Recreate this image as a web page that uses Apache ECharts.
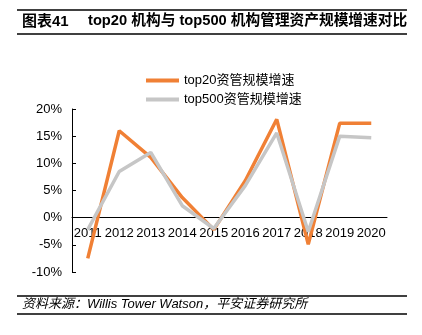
<!DOCTYPE html>
<html>
<head>
<meta charset="utf-8">
<script src="https://cdn.jsdelivr.net/npm/echarts@6/dist/echarts.min.js"></script>
<style>
html,body{margin:0;padding:0;background:#fff;}
#c{width:422px;height:335px;}
</style>
</head>
<body>
<div id="c"></div>
<script>
const categories = ['2011','2012','2013','2014','2015','2016','2017','2018','2019','2020'];
const top20 = [-7.5, 16.0, 11.1, 3.7, -2.2, 6.8, 18.1, -4.9, 17.4, 17.4];
const top500 = [-2.2, 8.5, 12.0, 2.2, -2.0, 5.9, 15.6, -2.6, 15.0, 14.7];
const seriesNames = ['top20资管规模增速', 'top500资管规模增速'];
const yTicks = {min: -10, max: 20, interval: 5};

const FONT = 'Liberation Sans, Arial, "Noto Sans CJK SC", sans-serif';
const chart = echarts.init(document.getElementById('c'), null, {renderer: 'canvas'});
chart.setOption({
  animation: false,
  backgroundColor: '#fff',
  textStyle: {fontFamily: FONT},
  grid: {left: 72, right: 35, top: 109, bottom: 63, containLabel: false},
  legend: {
    orient: 'vertical', left: 141, top: 69, itemGap: 6,
    itemWidth: 33, itemHeight: 4, icon: 'rect',
    textStyle: {fontFamily: FONT, fontSize: 13, color: '#000'},
    data: seriesNames
  },
  xAxis: {
    type: 'category', data: categories, boundaryGap: true,
    axisLine: {onZero: true, lineStyle: {color: '#000', width: 1}},
    axisTick: {inside: true, length: 4, lineStyle: {color: '#000'}},
    axisLabel: {color: '#000', fontSize: 13, margin: -45, fontFamily: FONT, interval: 0}
  },
  yAxis: {
    type: 'value', min: yTicks.min, max: yTicks.max, interval: yTicks.interval,
    axisLine: {show: true, lineStyle: {color: '#000', width: 1}},
    axisTick: {show: true, inside: true, length: 4, lineStyle: {color: '#000'}},
    axisLabel: {color: '#000', fontSize: 13, margin: 10, fontFamily: FONT, formatter: '{value}%'},
    splitLine: {show: false}
  },
  series: [
    {name: seriesNames[1], type: 'line', data: top500, symbol: 'none',
     lineStyle: {color: '#c6c6c6', width: 3.5}, itemStyle: {color: '#c6c6c6'}, z: 2},
    {name: seriesNames[0], type: 'line', data: top20, symbol: 'none',
     lineStyle: {color: '#f08035', width: 3.5}, itemStyle: {color: '#f08035'}, z: 1}
  ],
  graphic: [
    {type: 'line', shape: {x1: 17, y1: 10, x2: 407, y2: 10}, style: {stroke: '#000', lineWidth: 1.5}},
    {type: 'line', shape: {x1: 17, y1: 34, x2: 407, y2: 34}, style: {stroke: '#000', lineWidth: 1.5}},
    {type: 'text', left: 22, top: 14, style: {text: '图表41', font: 'bold 15px ' + FONT, fill: '#000'}},
    {type: 'text', left: 88, top: 14, style: {text: 'top20 机构与 top500 机构管理资产规模增速对比', font: 'bold 14.7px ' + FONT, fill: '#000'}},
    {type: 'line', shape: {x1: 17, y1: 296, x2: 407, y2: 296}, style: {stroke: '#000', lineWidth: 1.5}},
    {type: 'line', shape: {x1: 17, y1: 314, x2: 407, y2: 314}, style: {stroke: '#000', lineWidth: 1.5}},
    {type: 'text', left: 22, top: 298, style: {text: '资料来源：Willis Tower Watson，平安证券研究所', font: 'italic 13px ' + FONT, fill: '#000'}}
  ]
});
</script>
</body>
</html>
